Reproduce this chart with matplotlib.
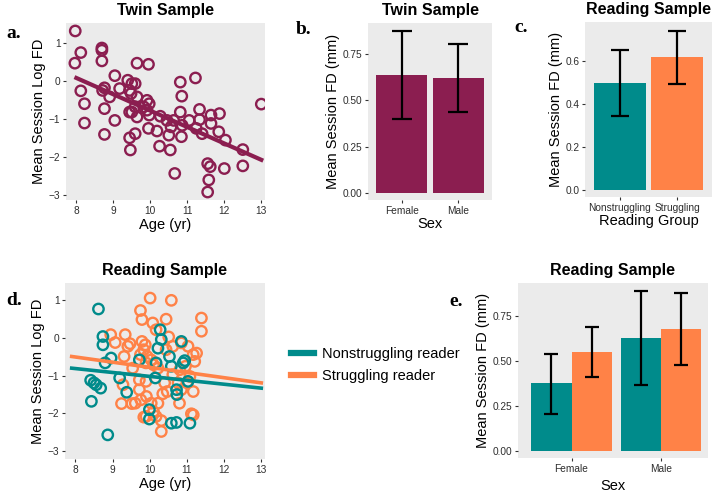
import matplotlib
matplotlib.use("Agg")
import matplotlib.pyplot as plt
from matplotlib.lines import Line2D


# =========================================================
# DATA
# =========================================================

# panel a: twin sample, age vs log FD
twin_age = [7.97, 7.96, 8.12, 8.12, 8.22, 8.22, 8.69, 8.69, 8.69, 8.71,
            8.76, 8.76, 8.76, 9.04, 9.04, 8.90, 9.17, 9.39, 9.44, 9.48,
            9.50, 9.59, 9.44, 9.50, 9.44, 9.46, 9.64, 9.64, 9.59, 9.64,
            9.59, 9.95, 9.91, 9.97, 9.97, 9.95, 9.91, 9.82, 10.18, 10.25,
            10.27, 10.45, 10.50, 10.54, 10.56, 10.63, 10.66, 10.81, 10.85, 10.81,
            10.86, 10.84, 11.05, 11.22, 11.24, 11.33, 11.33, 11.40, 11.55, 11.62,
            11.58, 11.55, 11.64, 11.64, 11.87, 11.85, 12.03, 12.00, 12.50, 12.50,
            13.00]
twin_fd = [1.32, 0.47, 0.75, -0.26, -0.60, -1.11, 0.87, 0.81, 0.53, -0.25,
           -0.18, -0.73, -1.41, 0.14, -1.04, -0.42, -0.20, 0.02, -0.25, -0.33,
           -0.07, -0.07, -0.82, -0.82, -1.50, -1.82, 0.47, -0.42, -0.68, -0.95,
           -1.39, 0.44, -0.51, -0.60, -0.90, -1.25, -0.77, -0.68, -1.32, -1.72,
           -0.93, -1.04, -1.43, -1.82, -1.21, -1.04, -2.44, -0.03, -0.40, -0.82,
           -1.17, -1.47, -1.04, 0.08, -1.25, -0.75, -1.02, -1.39, -2.18, -2.26,
           -2.61, -2.93, -0.90, -1.12, -0.86, -1.34, -1.56, -2.31, -1.81, -2.24,
           -0.61]
twin_fit_x = [8.0, 13.0]
twin_fit_y = [0.08, -2.08]

# panel b: twin sample by sex
sex_labels = ["Female", "Male"]
twin_mean = [0.64, 0.62]
twin_lo = [0.40, 0.435]
twin_hi = [0.875, 0.806]

# panel c: reading sample by group
group_labels = ["Nonstruggling", "Struggling"]
group_mean = [0.50, 0.62]
group_lo = [0.346, 0.495]
group_hi = [0.655, 0.745]

# panel d: reading sample, age vs log FD
non_age = [8.62, 8.74, 8.74, 8.80, 8.96, 8.41, 8.50, 8.56, 8.68, 8.43,
           8.87, 9.19, 9.38, 9.72, 9.99, 9.99, 10.15, 10.28, 10.31, 10.22,
           10.17, 10.53, 10.58, 10.72, 10.73, 10.85, 10.90, 10.94, 10.58, 10.72,
           11.08, 11.03]
non_fd = [0.77, 0.04, -0.18, -0.66, -0.53, -1.12, -1.19, -1.24, -1.33, -1.68,
          -2.57, -1.06, -1.44, -0.58, -1.90, -2.15, -1.06, 0.22, -0.04, -0.27,
          -0.66, -0.49, -0.75, -1.37, -1.50, -0.09, -0.66, -0.60, -2.26, -2.24,
          -2.26, -1.15]
str_age = [10.01, 10.58, 9.75, 9.79, 10.08, 10.17, 10.44, 11.39, 11.39, 8.95,
           9.07, 9.34, 9.47, 9.41, 9.79, 9.88, 9.84, 9.75, 9.93, 10.04,
           9.90, 10.10, 10.22, 10.44, 10.51, 10.62, 10.85, 11.03, 11.17, 11.21,
           11.26, 9.31, 9.54, 9.28, 9.24, 9.52, 9.61, 9.76, 9.72, 9.72,
           9.90, 9.91, 10.04, 10.10, 10.22, 10.35, 10.47, 10.40, 10.62, 10.76,
           10.85, 11.00, 11.17, 11.08, 10.80, 11.12, 11.17, 10.31, 10.31, 9.84,
           9.90, 10.17, 10.96, 10.81]
str_fd = [1.06, 1.00, 0.73, 0.49, 0.40, 0.22, 0.50, 0.53, 0.18, 0.09,
          -0.12, 0.09, -0.15, -0.22, -0.09, -0.18, -0.31, -0.44, -0.49, -0.58,
          -0.66, -0.71, -0.80, -0.31, 0.03, -0.22, -0.13, -0.22, -0.44, -0.62,
          -0.40, -0.49, -0.80, -1.24, -1.74, -1.74, -1.73, -1.64, -1.37, -1.11,
          -1.15, -1.55, -1.73, -1.95, -1.73, -1.48, -1.42, -1.19, -0.97, -1.19,
          -1.37, -1.19, -1.42, -1.02, -1.73, -2.01, -2.04, -2.19, -2.48, -2.10,
          -2.08, -2.08, -0.75, -0.84]
read_fit_x = [7.9, 13.0]
non_fit_y = [-0.80, -1.33]
str_fit_y = [-0.49, -1.19]

# panel e: reading sample by sex and group
non_sex_mean = [0.378, 0.629]
non_sex_lo = [0.205, 0.369]
non_sex_hi = [0.542, 0.890]
str_sex_mean = [0.551, 0.680]
str_sex_lo = [0.410, 0.480]
str_sex_hi = [0.691, 0.880]


# =========================================================
# STYLE
# =========================================================

plt.rcParams["font.family"] = ["Liberation Sans", "DejaVu Sans"]

W, H = 717, 498
MAROON = "#8B1E50"
TEAL = "#008B8B"
ORANGE = "#FF8247"
BG = "#EBEBEB"

fig = plt.figure(figsize=(W / 100, H / 100), dpi=100)


def px_axes(x0, y0, x1, y1):
    ax = fig.add_axes([x0 / W, 1 - y1 / H, (x1 - x0) / W, (y1 - y0) / H])
    ax.set_facecolor(BG)
    for s in ax.spines.values():
        s.set_visible(False)
    ax.tick_params(length=2.5, width=0.8, color="#333333",
                   labelsize=7.3, labelcolor="#2E2E2E", pad=1.5)
    return ax


def panel_letter(x, y, letter):
    fig.text(x / W, 1 - y / H, letter, fontsize=14, fontweight="bold",
             family="Liberation Serif", va="center", ha="left")


def err(ax, x, mean, lo, hi, cap):
    lower = [m - l for m, l in zip(mean, lo)]
    upper = [h - m for m, h in zip(mean, hi)]
    ax.errorbar(x, mean, yerr=[lower, upper], fmt="none", ecolor="black",
                elinewidth=1.6, capsize=cap, capthick=1.6)


# =========================================================
# PANEL A
# =========================================================

ax = px_axes(66, 23, 265, 200)
ax.scatter(twin_age, twin_fd, s=56, facecolors="none",
           edgecolors=MAROON, linewidths=1.7)
ax.plot(twin_fit_x, twin_fit_y, color=MAROON, lw=3)
ax.set_xlim(7.72, 13.1)
ax.set_ylim(-3.14, 1.53)
ax.set_xticks([8, 9, 10, 11, 12, 13])
ax.set_yticks([-3, -2, -1, 0, 1])
ax.set_xlabel("Age (yr)", fontsize=10.5, labelpad=2)
ax.set_ylabel("Mean Session Log FD", fontsize=10.5, labelpad=2)
ax.set_title("Twin Sample", fontsize=11.5, fontweight="bold", pad=6)
panel_letter(6, 33, "a.")

# =========================================================
# PANEL B
# =========================================================

ax = px_axes(368, 23, 492, 200)
ax.bar([1, 2], twin_mean, width=0.9, color=MAROON)
err(ax, [1, 2], twin_mean, twin_lo, twin_hi, 7.5)
ax.set_xlim(0.4, 2.6)
ax.set_ylim(-0.04, 0.92)
ax.set_xticks([1, 2])
ax.set_xticklabels(sex_labels)
ax.set_yticks([0, 0.25, 0.5, 0.75])
ax.set_yticklabels(["0.00", "0.25", "0.50", "0.75"])
ax.set_xlabel("Sex", fontsize=10.5, labelpad=1)
ax.set_ylabel("Mean Session FD (mm)", fontsize=10.5, labelpad=2)
ax.set_title("Twin Sample", fontsize=11.5, fontweight="bold", pad=6)
panel_letter(296, 30, "b.")

# =========================================================
# PANEL C
# =========================================================

ax = px_axes(585, 22, 712, 197)
ax.bar([1, 2], group_mean, width=0.9, color=[TEAL, ORANGE])
err(ax, [1, 2], group_mean, group_lo, group_hi, 6.2)
ax.set_xlim(0.4, 2.6)
ax.set_ylim(-0.035, 0.785)
ax.set_xticks([1, 2])
ax.set_xticklabels(group_labels)
ax.set_yticks([0, 0.2, 0.4, 0.6])
ax.set_yticklabels(["0.0", "0.2", "0.4", "0.6"])
ax.set_xlabel("Reading Group", fontsize=10.5, labelpad=1)
ax.set_ylabel("Mean Session FD (mm)", fontsize=10.5, labelpad=2)
ax.set_title("Reading Sample", fontsize=11.5, fontweight="bold", pad=6)
panel_letter(514, 27, "c.")

# =========================================================
# PANEL D
# =========================================================

ax = px_axes(65, 283, 265, 459)
ax.scatter(str_age, str_fd, s=56, facecolors="none",
           edgecolors=ORANGE, linewidths=1.7)
ax.scatter(non_age, non_fd, s=56, facecolors="none",
           edgecolors=TEAL, linewidths=1.7)
ax.plot(read_fit_x, str_fit_y, color=ORANGE, lw=2.6)
ax.plot(read_fit_x, non_fit_y, color=TEAL, lw=2.6)
ax.set_xlim(7.72, 13.1)
ax.set_ylim(-3.21, 1.46)
ax.set_xticks([8, 9, 10, 11, 12, 13])
ax.set_yticks([-3, -2, -1, 0, 1])
ax.set_xlabel("Age (yr)", fontsize=10.5, labelpad=2)
ax.set_ylabel("Mean Session Log FD", fontsize=10.5, labelpad=2)
ax.set_title("Reading Sample", fontsize=11.5, fontweight="bold", pad=6)
panel_letter(6, 300, "d.")

handles = [Line2D([], [], color=TEAL, lw=4.5),
           Line2D([], [], color=ORANGE, lw=4.5)]
fig.legend(handles, ["Nonstruggling reader", "Struggling reader"],
           loc="center left", bbox_to_anchor=(278 / W, 1 - 365 / H),
           frameon=False, fontsize=10.5, handlelength=1.6,
           handletextpad=0.5, labelspacing=0.6)

# =========================================================
# PANEL E
# =========================================================

ax = px_axes(518, 283, 708, 458)
ax.bar([0.775, 1.775], non_sex_mean, width=0.45, color=TEAL)
ax.bar([1.225, 2.225], str_sex_mean, width=0.45, color=ORANGE)
err(ax, [0.775, 1.775], non_sex_mean, non_sex_lo, non_sex_hi, 4.7)
err(ax, [1.225, 2.225], str_sex_mean, str_sex_lo, str_sex_hi, 4.7)
ax.set_xlim(0.4, 2.53)
ax.set_ylim(-0.04, 0.936)
ax.set_xticks([1, 2])
ax.set_xticklabels(sex_labels)
ax.set_yticks([0, 0.25, 0.5, 0.75])
ax.set_yticklabels(["0.00", "0.25", "0.50", "0.75"])
ax.set_xlabel("Sex", fontsize=10.5, labelpad=4)
ax.set_ylabel("Mean Session FD (mm)", fontsize=10.5, labelpad=2)
ax.set_title("Reading Sample", fontsize=11.5, fontweight="bold", pad=6)
panel_letter(449, 302, "e.")

plt.savefig("out.png", dpi=100)
